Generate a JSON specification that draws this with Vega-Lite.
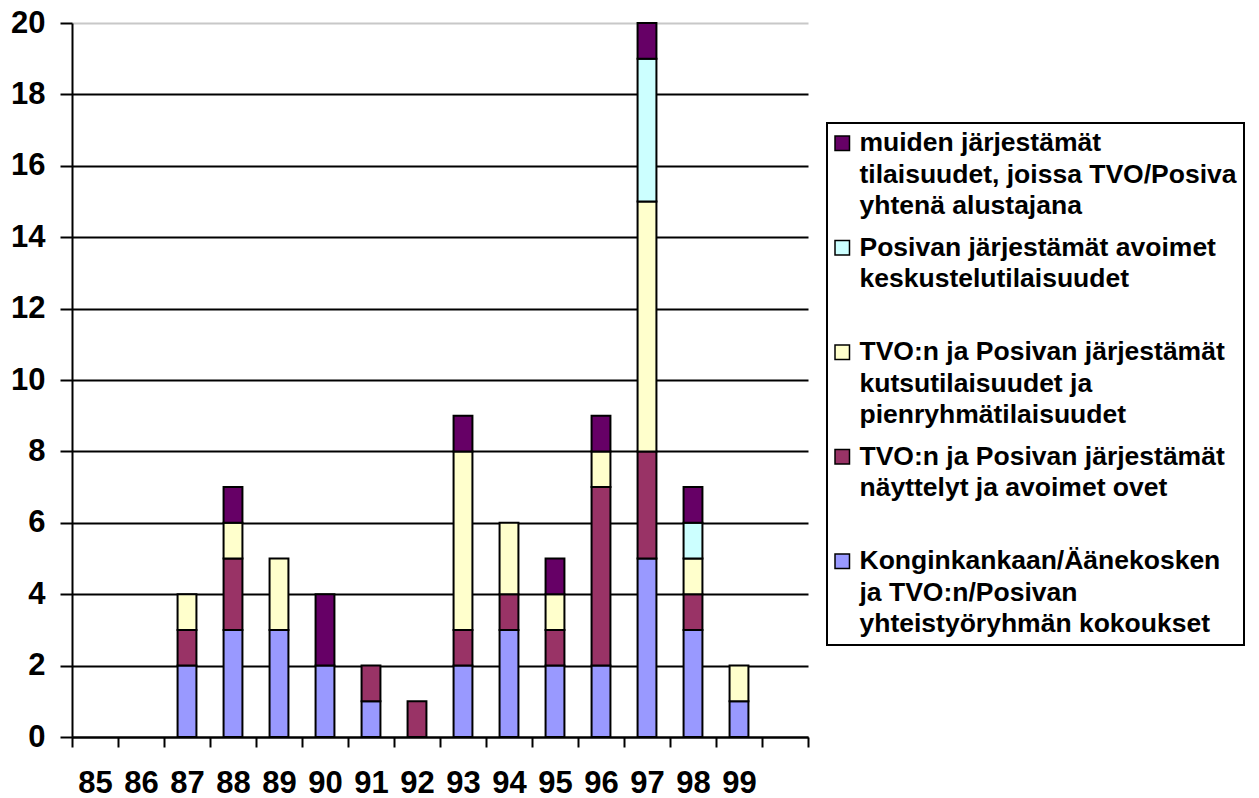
{
  "$schema": "https://vega.github.io/schema/vega-lite/v6.json",
  "width": 736,
  "height": 714,
  "autosize": {"type": "none"},
  "padding": {"left": 72, "top": 23, "right": 451, "bottom": 61},
  "background": "white",
  "config": {"view": {"stroke": null}, "font": "Liberation Sans"},
  "data": {
    "values": [
      {"year": "87", "cat": "Konginkankaan/Äänekosken ja TVO:n/Posivan yhteistyöryhmän kokoukset", "o": 1, "n": 2},
      {"year": "87", "cat": "TVO:n ja Posivan järjestämät näyttelyt ja avoimet ovet", "o": 2, "n": 1},
      {"year": "87", "cat": "TVO:n ja Posivan järjestämät kutsutilaisuudet ja pienryhmätilaisuudet", "o": 3, "n": 1},
      {"year": "88", "cat": "Konginkankaan/Äänekosken ja TVO:n/Posivan yhteistyöryhmän kokoukset", "o": 1, "n": 3},
      {"year": "88", "cat": "TVO:n ja Posivan järjestämät näyttelyt ja avoimet ovet", "o": 2, "n": 2},
      {"year": "88", "cat": "TVO:n ja Posivan järjestämät kutsutilaisuudet ja pienryhmätilaisuudet", "o": 3, "n": 1},
      {"year": "88", "cat": "muiden järjestämät tilaisuudet, joissa TVO/Posiva yhtenä alustajana", "o": 5, "n": 1},
      {"year": "89", "cat": "Konginkankaan/Äänekosken ja TVO:n/Posivan yhteistyöryhmän kokoukset", "o": 1, "n": 3},
      {"year": "89", "cat": "TVO:n ja Posivan järjestämät kutsutilaisuudet ja pienryhmätilaisuudet", "o": 3, "n": 2},
      {"year": "90", "cat": "Konginkankaan/Äänekosken ja TVO:n/Posivan yhteistyöryhmän kokoukset", "o": 1, "n": 2},
      {"year": "90", "cat": "muiden järjestämät tilaisuudet, joissa TVO/Posiva yhtenä alustajana", "o": 5, "n": 2},
      {"year": "91", "cat": "Konginkankaan/Äänekosken ja TVO:n/Posivan yhteistyöryhmän kokoukset", "o": 1, "n": 1},
      {"year": "91", "cat": "TVO:n ja Posivan järjestämät näyttelyt ja avoimet ovet", "o": 2, "n": 1},
      {"year": "92", "cat": "TVO:n ja Posivan järjestämät näyttelyt ja avoimet ovet", "o": 2, "n": 1},
      {"year": "93", "cat": "Konginkankaan/Äänekosken ja TVO:n/Posivan yhteistyöryhmän kokoukset", "o": 1, "n": 2},
      {"year": "93", "cat": "TVO:n ja Posivan järjestämät näyttelyt ja avoimet ovet", "o": 2, "n": 1},
      {"year": "93", "cat": "TVO:n ja Posivan järjestämät kutsutilaisuudet ja pienryhmätilaisuudet", "o": 3, "n": 5},
      {"year": "93", "cat": "muiden järjestämät tilaisuudet, joissa TVO/Posiva yhtenä alustajana", "o": 5, "n": 1},
      {"year": "94", "cat": "Konginkankaan/Äänekosken ja TVO:n/Posivan yhteistyöryhmän kokoukset", "o": 1, "n": 3},
      {"year": "94", "cat": "TVO:n ja Posivan järjestämät näyttelyt ja avoimet ovet", "o": 2, "n": 1},
      {"year": "94", "cat": "TVO:n ja Posivan järjestämät kutsutilaisuudet ja pienryhmätilaisuudet", "o": 3, "n": 2},
      {"year": "95", "cat": "Konginkankaan/Äänekosken ja TVO:n/Posivan yhteistyöryhmän kokoukset", "o": 1, "n": 2},
      {"year": "95", "cat": "TVO:n ja Posivan järjestämät näyttelyt ja avoimet ovet", "o": 2, "n": 1},
      {"year": "95", "cat": "TVO:n ja Posivan järjestämät kutsutilaisuudet ja pienryhmätilaisuudet", "o": 3, "n": 1},
      {"year": "95", "cat": "muiden järjestämät tilaisuudet, joissa TVO/Posiva yhtenä alustajana", "o": 5, "n": 1},
      {"year": "96", "cat": "Konginkankaan/Äänekosken ja TVO:n/Posivan yhteistyöryhmän kokoukset", "o": 1, "n": 2},
      {"year": "96", "cat": "TVO:n ja Posivan järjestämät näyttelyt ja avoimet ovet", "o": 2, "n": 5},
      {"year": "96", "cat": "TVO:n ja Posivan järjestämät kutsutilaisuudet ja pienryhmätilaisuudet", "o": 3, "n": 1},
      {"year": "96", "cat": "muiden järjestämät tilaisuudet, joissa TVO/Posiva yhtenä alustajana", "o": 5, "n": 1},
      {"year": "97", "cat": "Konginkankaan/Äänekosken ja TVO:n/Posivan yhteistyöryhmän kokoukset", "o": 1, "n": 5},
      {"year": "97", "cat": "TVO:n ja Posivan järjestämät näyttelyt ja avoimet ovet", "o": 2, "n": 3},
      {"year": "97", "cat": "TVO:n ja Posivan järjestämät kutsutilaisuudet ja pienryhmätilaisuudet", "o": 3, "n": 7},
      {"year": "97", "cat": "Posivan järjestämät avoimet keskustelutilaisuudet", "o": 4, "n": 4},
      {"year": "97", "cat": "muiden järjestämät tilaisuudet, joissa TVO/Posiva yhtenä alustajana", "o": 5, "n": 1},
      {"year": "98", "cat": "Konginkankaan/Äänekosken ja TVO:n/Posivan yhteistyöryhmän kokoukset", "o": 1, "n": 3},
      {"year": "98", "cat": "TVO:n ja Posivan järjestämät näyttelyt ja avoimet ovet", "o": 2, "n": 1},
      {"year": "98", "cat": "TVO:n ja Posivan järjestämät kutsutilaisuudet ja pienryhmätilaisuudet", "o": 3, "n": 1},
      {"year": "98", "cat": "Posivan järjestämät avoimet keskustelutilaisuudet", "o": 4, "n": 1},
      {"year": "98", "cat": "muiden järjestämät tilaisuudet, joissa TVO/Posiva yhtenä alustajana", "o": 5, "n": 1},
      {"year": "99", "cat": "Konginkankaan/Äänekosken ja TVO:n/Posivan yhteistyöryhmän kokoukset", "o": 1, "n": 1},
      {"year": "99", "cat": "TVO:n ja Posivan järjestämät kutsutilaisuudet ja pienryhmätilaisuudet", "o": 3, "n": 1}
    ]
  },
  "mark": {"type": "bar", "stroke": "black", "strokeWidth": 2, "width": {"band": 0.41}},
  "encoding": {
    "x": {
      "field": "year",
      "type": "ordinal",
      "scale": {"domain": ["85","86","87","88","89","90","91","92","93","94","95","96","97","98","99"," "], "paddingInner": 0, "paddingOuter": 0},
      "axis": {
        "title": null,
        "tickBand": "extent",
        "grid": false,
        "domainColor": "black",
        "domainWidth": 2,
        "tickColor": "black",
        "tickWidth": 2,
        "tickSize": 10,
        "labelFont": "Liberation Sans",
        "labelFontSize": 31,
        "labelFontWeight": "bold",
        "labelColor": "black",
        "labelPadding": 21,
        "labelAngle": 0
      }
    },
    "y": {
      "field": "n",
      "type": "quantitative",
      "stack": "zero",
      "scale": {"domain": [0, 20], "nice": false},
      "axis": {
        "title": null,
        "values": [0,2,4,6,8,10,12,14,16,18,20],
        "grid": true,
        "gridColor": {"condition": {"test": "datum.value == 20", "value": "#c8c8c8"}, "value": "black"},
        "gridWidth": 2,
        "domainColor": "black",
        "domainWidth": 2,
        "tickColor": "black",
        "tickWidth": 2,
        "tickSize": 12,
        "labelFont": "Liberation Sans",
        "labelFontSize": 31,
        "labelFontWeight": "bold",
        "labelColor": "black",
        "labelPadding": 15,
        "labelFlush": false,
        "labelOverlap": false
      }
    },
    "color": {
      "field": "cat",
      "type": "nominal",
      "scale": {
        "domain": [
          "muiden järjestämät tilaisuudet, joissa TVO/Posiva yhtenä alustajana",
          "Posivan järjestämät avoimet keskustelutilaisuudet",
          "TVO:n ja Posivan järjestämät kutsutilaisuudet ja pienryhmätilaisuudet",
          "TVO:n ja Posivan järjestämät näyttelyt ja avoimet ovet",
          "Konginkankaan/Äänekosken ja TVO:n/Posivan yhteistyöryhmän kokoukset"
        ],
        "range": ["#660066", "#CCFFFF", "#FFFFCC", "#993366", "#9999FF"]
      },
      "legend": {
        "title": null,
        "orient": "none",
        "legendX": 755,
        "legendY": 100,
        "symbolType": "square",
        "symbolSize": 210,
        "symbolStrokeColor": "black",
        "symbolStrokeWidth": 1.5,
        "symbolOpacity": 1,
        "symbolOffset": -5,
        "labelFont": "Liberation Sans",
        "labelFontSize": 26.5,
        "labelFontWeight": "bold",
        "labelColor": "black",
        "labelLimit": 1000,
        "labelOffset": 4,
        "labelBaseline": "top",
        "rowPadding": 14.5,
        "padding": 7,
        "strokeColor": "black",
        "fillColor": "white",
        "labelExpr": "datum.label == 'muiden järjestämät tilaisuudet, joissa TVO/Posiva yhtenä alustajana' ? ['muiden järjestämät', 'tilaisuudet, joissa TVO/Posiva', 'yhtenä alustajana'] : datum.label == 'Posivan järjestämät avoimet keskustelutilaisuudet' ? ['Posivan järjestämät avoimet', 'keskustelutilaisuudet', ''] : datum.label == 'TVO:n ja Posivan järjestämät kutsutilaisuudet ja pienryhmätilaisuudet' ? ['TVO:n ja Posivan järjestämät', 'kutsutilaisuudet ja', 'pienryhmätilaisuudet'] : datum.label == 'TVO:n ja Posivan järjestämät näyttelyt ja avoimet ovet' ? ['TVO:n ja Posivan järjestämät', 'näyttelyt ja avoimet ovet', ''] : ['Konginkankaan/Äänekosken', 'ja TVO:n/Posivan', 'yhteistyöryhmän kokoukset']",
        "encode": {
          "legend": {"update": {"strokeWidth": {"value": 2}}},
          "labels": {"update": {"lineHeight": {"value": 31.5}, "dy": {"value": -13}}}
        }
      }
    },
    "order": {"field": "o", "type": "quantitative"}
  }
}
